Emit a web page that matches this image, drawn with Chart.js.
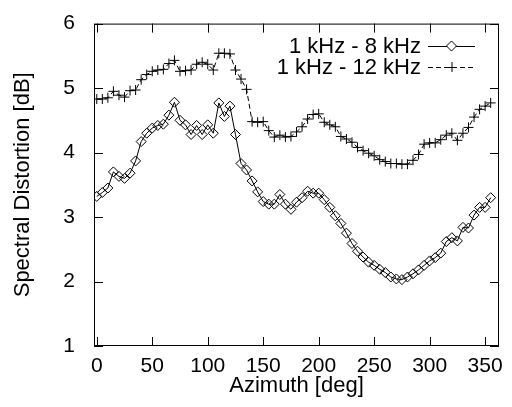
<!DOCTYPE html>
<html>
<head>
<meta charset="utf-8">
<script src="https://cdn.jsdelivr.net/npm/chart.js@4.4.1/dist/chart.umd.min.js"></script>
<style>
  html, body { margin: 0; padding: 0; background: #fff; }
  #wrap { width: 512px; height: 407px; }
</style>
</head>
<body>
<div id="wrap"><canvas id="chart"></canvas></div>
<script>
const azimuth = [
  0, 5, 10, 15, 20, 25, 30, 35, 40, 45, 50, 55, 60, 65, 70, 75, 80, 85,
  90, 95, 100, 105, 110, 115, 120, 125, 130, 135, 140, 145, 150, 155, 160, 165, 170, 175,
  180, 185, 190, 195, 200, 205, 210, 215, 220, 225, 230, 235, 240, 245, 250, 255, 260, 265,
  270, 275, 280, 285, 290, 295, 300, 305, 310, 315, 320, 325, 330, 335, 340, 345, 350, 355
];
const sd8k = [
  3.32, 3.38, 3.45, 3.70, 3.63, 3.60, 3.68, 3.87, 4.17, 4.30, 4.38, 4.42, 4.44, 4.58, 4.78, 4.50, 4.43, 4.28,
  4.42, 4.28, 4.43, 4.30, 4.77, 4.56, 4.72, 4.28, 3.83, 3.73, 3.56, 3.39, 3.24, 3.20, 3.20, 3.35, 3.20, 3.12,
  3.23, 3.30, 3.40, 3.37, 3.37, 3.27, 3.15, 3.02, 2.90, 2.75, 2.59, 2.47, 2.38, 2.30, 2.25, 2.19, 2.14, 2.07,
  2.04, 2.03, 2.07, 2.12, 2.18, 2.25, 2.32, 2.37, 2.44, 2.62, 2.68, 2.63, 2.84, 2.83, 3.03, 3.15, 3.15, 3.30
];
const sd12k = [
  4.83, 4.83, 4.85, 4.95, 4.89, 4.86, 4.96, 4.97, 5.13, 5.21, 5.26, 5.28, 5.29, 5.38, 5.43, 5.26, 5.27, 5.28,
  5.37, 5.40, 5.37, 5.28, 5.54, 5.54, 5.53, 5.28, 5.14, 4.98, 4.48, 4.47, 4.48, 4.34, 4.24, 4.27, 4.24, 4.25,
  4.32, 4.40, 4.52, 4.59, 4.60, 4.47, 4.43, 4.40, 4.25, 4.21, 4.16, 4.08, 4.03, 3.99, 3.95, 3.89, 3.86, 3.83,
  3.83, 3.82, 3.82, 3.88, 3.97, 4.13, 4.15, 4.15, 4.20, 4.27, 4.30, 4.19, 4.30, 4.39, 4.55, 4.67, 4.72, 4.77
];
const xTicks = [0, 50, 100, 150, 200, 250, 300, 350];
const yTicks = [1, 2, 3, 4, 5, 6];
const seriesLabels = ['1 kHz - 8 kHz', '1 kHz - 12 kHz'];

const FONT = 'Liberation Sans, Arial, Helvetica, sans-serif';
const INK = '#000';

function toPoints(vals) {
  return azimuth.map((a, i) => ({ x: a, y: vals[i] }));
}

// gnuplot style box with inward, mirrored tick marks
const frameTicks = {
  id: 'frameTicks',
  afterDraw(chart) {
    const { ctx, chartArea: a, scales } = chart;
    const len = 9;
    ctx.save();
    ctx.strokeStyle = INK;
    ctx.lineWidth = 1;
    ctx.beginPath();
    scales.x.ticks.forEach(t => {
      const px = Math.round(scales.x.getPixelForValue(t.value)) + 0.5;
      ctx.moveTo(px, a.bottom); ctx.lineTo(px, a.bottom - len);
      ctx.moveTo(px, a.top); ctx.lineTo(px, a.top + len);
    });
    scales.y.ticks.forEach(t => {
      const py = Math.round(scales.y.getPixelForValue(t.value)) + 0.5;
      ctx.moveTo(a.left, py); ctx.lineTo(a.left + len, py);
      ctx.moveTo(a.right, py); ctx.lineTo(a.right - len, py);
    });
    ctx.stroke();
    ctx.strokeRect(a.left + 0.5, a.top + 0.5, a.right - a.left - 1, a.bottom - a.top - 1);
    ctx.restore();
  }
};

// key in the upper right, text first then the line sample
const keyBox = {
  id: 'keyBox',
  afterDraw(chart) {
    const { ctx } = chart;
    const textRight = 421, lineL = 428, lineR = 475, rowY = [46, 67];
    ctx.save();
    ctx.font = '22px ' + FONT;
    ctx.fillStyle = INK;
    ctx.textAlign = 'right';
    ctx.textBaseline = 'middle';
    chart.data.datasets.forEach((ds, i) => {
      const y = rowY[i];
      ctx.fillText(ds.label, textRight, y + 1);
      ctx.strokeStyle = INK;
      ctx.lineWidth = 1;
      ctx.setLineDash(ds.borderDash || []);
      ctx.beginPath();
      ctx.moveTo(lineL, y + 0.5); ctx.lineTo(lineR, y + 0.5);
      ctx.stroke();
      ctx.setLineDash([]);
      const cx = (lineL + lineR) / 2, r = ds.pointRadius;
      ctx.beginPath();
      if (ds.pointStyle === 'rectRot') {
        ctx.moveTo(cx, y - r); ctx.lineTo(cx + r, y); ctx.lineTo(cx, y + r); ctx.lineTo(cx - r, y); ctx.closePath();
        ctx.fillStyle = '#fff';
        ctx.fill();
      } else {
        ctx.moveTo(cx - r, y + 0.5); ctx.lineTo(cx + r, y + 0.5);
        ctx.moveTo(cx + 0.5, y - r); ctx.lineTo(cx + 0.5, y + r);
      }
      ctx.stroke();
      ctx.fillStyle = INK;
    });
    ctx.restore();
  }
};

const chart = new Chart(document.getElementById('chart'), {
  type: 'line',
  data: {
    datasets: [
      {
        label: seriesLabels[0],
        data: toPoints(sd8k),
        borderColor: INK,
        borderWidth: 1,
        tension: 0,
        pointStyle: 'rectRot',
        pointRadius: 5,
        pointBorderWidth: 1,
        pointBorderColor: INK,
        pointBackgroundColor: 'rgba(255,255,255,0)'
      },
      {
        label: seriesLabels[1],
        data: toPoints(sd12k),
        borderColor: INK,
        borderWidth: 1,
        borderDash: [5, 3],
        tension: 0,
        pointStyle: 'cross',
        pointRadius: 5,
        pointBorderWidth: 1,
        pointBorderColor: INK,
        pointBackgroundColor: INK
      }
    ]
  },
  options: {
    animation: false,
    responsive: true,
    maintainAspectRatio: false,
    devicePixelRatio: 1,
    layout: { padding: { top: 13, right: 13, left: 0, bottom: 0 } },
    plugins: {
      legend: { display: false },
      tooltip: { enabled: false }
    },
    scales: {
      x: {
        type: 'linear',
        min: -2.5,
        max: 362.5,
        afterBuildTicks: s => { s.ticks = xTicks.map(v => ({ value: v })); },
        afterFit: s => { s.height = 61; },
        grid: { display: false },
        border: { display: false },
        ticks: { color: INK, padding: 0, maxRotation: 0, font: { family: FONT, size: 21 } },
        title: {
          display: true,
          text: 'Azimuth [deg]',
          color: INK,
          padding: { top: 0, bottom: 8 },
          font: { family: FONT, size: 22 }
        }
      },
      y: {
        type: 'linear',
        min: 1,
        max: 6,
        afterBuildTicks: s => { s.ticks = yTicks.map(v => ({ value: v })); },
        afterFit: s => { s.width = 94; },
        grid: { display: false },
        border: { display: false },
        ticks: { color: INK, padding: 11, font: { family: FONT, size: 21 } },
        title: {
          display: true,
          text: 'Spectral Distortion [dB]',
          color: INK,
          padding: { top: 10, bottom: 0 },
          font: { family: FONT, size: 22 }
        }
      }
    }
  },
  plugins: [frameTicks, keyBox, {
    id: 'whiteBg',
    beforeDraw: c => {
      const ctx = c.canvas.getContext('2d');
      ctx.save();
      ctx.globalCompositeOperation = 'destination-over';
      ctx.fillStyle = 'white';
      ctx.fillRect(0, 0, c.canvas.width, c.canvas.height);
      ctx.restore();
    }
  }]
});
</script>
</body>
</html>
